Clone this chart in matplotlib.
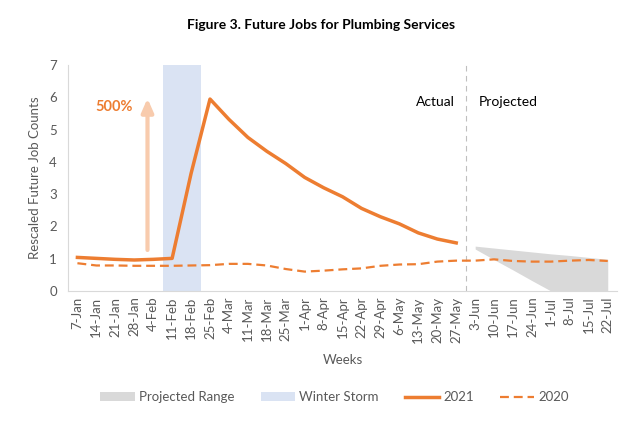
import numpy as np
import matplotlib.pyplot as plt
from matplotlib.patches import Patch
from matplotlib.lines import Line2D

plt.rcParams['font.family'] = ['Lato', 'DejaVu Sans']

weeks = ['7-Jan', '14-Jan', '21-Jan', '28-Jan', '4-Feb', '11-Feb', '18-Feb', '25-Feb',
         '4-Mar', '11-Mar', '18-Mar', '25-Mar', '1-Apr', '8-Apr', '15-Apr', '22-Apr',
         '29-Apr', '6-May', '13-May', '20-May', '27-May', '3-Jun', '10-Jun', '17-Jun',
         '24-Jun', '1-Jul', '8-Jul', '15-Jul', '22-Jul']

jobs_2021 = [1.04, 1.01, 0.98, 0.96, 0.98, 1.01, 3.64, 5.95, 5.32, 4.76, 4.33, 3.95,
             3.52, 3.20, 2.92, 2.56, 2.30, 2.08, 1.80, 1.61, 1.49]

jobs_2020 = [0.86, 0.79, 0.79, 0.78, 0.78, 0.78, 0.79, 0.80, 0.84, 0.84, 0.79, 0.68,
             0.60, 0.63, 0.67, 0.70, 0.78, 0.82, 0.83, 0.91, 0.94, 0.94, 0.98, 0.93,
             0.91, 0.91, 0.94, 0.96, 0.93]

# projected range (3-Jun .. 22-Jul)
proj_low = [1.30, 0.97, 0.65, 0.32, 0.0, 0.0, 0.0, 0.0]
proj_high = [1.39, 1.33, 1.27, 1.21, 1.15, 1.10, 1.04, 0.98]
proj_start = 21

storm_weeks = ['11-Feb', '18-Feb']

orange = '#ED7D31'
txt = '#595959'

fig = plt.figure(figsize=(6.35, 4.26), dpi=100)
ax = fig.add_axes([0.107, 0.317, 0.865, 0.530])

x = np.arange(len(weeks))
s0 = weeks.index(storm_weeks[0])
s1 = weeks.index(storm_weeks[-1])
ax.axvspan(s0 - 0.5, s1 + 0.5, color='#DAE3F3', lw=0, zorder=1)

xp = x[proj_start:proj_start + len(proj_low)]
ax.fill_between(xp, proj_low, proj_high, color='#D9D9D9', lw=0, zorder=1)

ax.plot(x[:len(jobs_2021)], jobs_2021, color=orange, lw=2.5, zorder=3)
ax.plot(x, jobs_2020, color=orange, lw=1.6, ls=(0, (4, 2.2)), zorder=3)

ax.axvline(len(jobs_2021) - 0.5, color='#BFBFBF', lw=0.8, ls=(0, (5, 4)), zorder=2)

ax.annotate('', xy=(3.7, 5.97), xytext=(3.7, 1.27),
            arrowprops=dict(arrowstyle='-|>,head_width=0.35,head_length=0.8',
                        color='#F8CBAD', lw=3, shrinkA=0, shrinkB=0))
ax.text(2.95, 5.7, '500%', color=orange, fontsize=10.5, fontweight='bold',
        ha='right', va='center')
ax.text(19.9, 5.85, 'Actual', color='black', fontsize=10, ha='right', va='center')
ax.text(21.2, 5.85, 'Projected', color='black', fontsize=10, ha='left', va='center')

ax.set_xlim(-0.5, len(weeks) - 0.5)
ax.set_ylim(0, 7)
ax.set_xticks(x)
ax.set_xticklabels(weeks, rotation=90, fontsize=9.5, color=txt)
ax.set_yticks(range(8))
ax.tick_params(axis='y', labelsize=9.5, labelcolor=txt, length=0, pad=8)
ax.tick_params(axis='x', length=0, pad=4)
for side in ['top', 'right']:
    ax.spines[side].set_visible(False)
for side in ['left', 'bottom']:
    ax.spines[side].set_color('#D9D9D9')
ax.set_ylabel('Rescaled Future Job Counts', fontsize=9.5, color=txt, labelpad=6)
ax.set_xlabel('Weeks', fontsize=9.5, color=txt, labelpad=8)

fig.suptitle('Figure 3. Future Jobs for Plumbing Services', fontsize=10,
             fontweight='bold', x=0.505, y=0.955)

handles = [Patch(color='#D9D9D9', lw=0), Patch(color='#DAE3F3', lw=0),
           Line2D([], [], color=orange, lw=2.5),
           Line2D([], [], color=orange, lw=1.6, ls=(0, (4, 2.2)))]
labels = ['Projected Range', 'Winter Storm', '2021', '2020']
fig.legend(handles, labels, loc='center', bbox_to_anchor=(0.527, 0.068), ncol=4,
           frameon=False, fontsize=9.5, labelcolor=txt, handlelength=2.6,
           handleheight=0.65, columnspacing=2.0, handletextpad=0.3)

fig.savefig('out.png', dpi=100)
